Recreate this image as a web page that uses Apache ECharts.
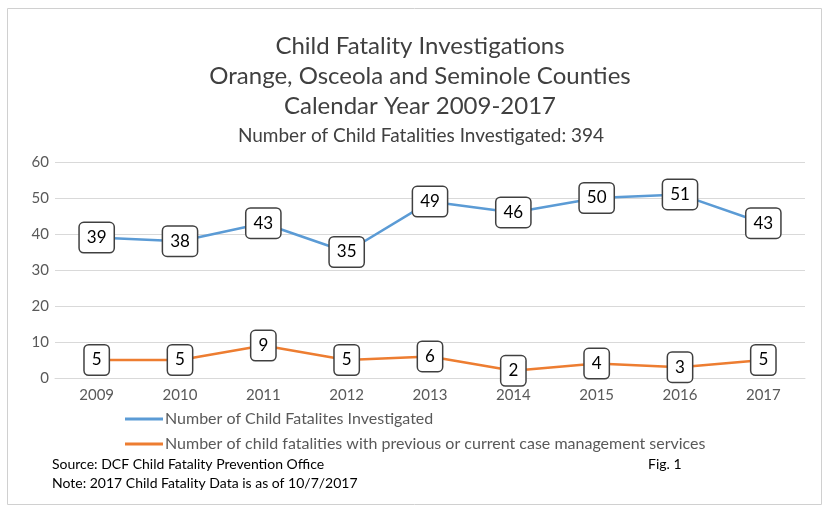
<!DOCTYPE html>
<html><head><meta charset="utf-8">
<script src="https://cdn.jsdelivr.net/npm/echarts@6/dist/echarts.min.js"></script>
<style>html,body{margin:0;padding:0;background:#fff}#c{width:825px;height:508px}</style>
</head><body><div id="c"></div>
<script>
var years = ['2009','2010','2011','2012','2013','2014','2015','2016','2017'];
var investigated = [39, 38, 43, 35, 49, 46, 50, 51, 43];
var withServices = [5, 5, 9, 5, 6, 2, 4, 3, 5];
var seriesNames = ['Number of Child Fatalites Investigated', 'Number of child fatalities with previous or current case management services'];
var titleLines = ['Child Fatality Investigations', 'Orange, Osceola and Seminole Counties', 'Calendar Year 2009-2017'];
var subtitleText = 'Number of Child Fatalities Investigated: 394';
var yTicks = {min: 0, max: 60, interval: 10};
var colors = ['#5B9BD5', '#ED7D31'];

var FONT = 'Lato, "Open Sans", sans-serif';
var chart = echarts.init(document.getElementById('c'), null, {renderer: 'canvas'});
var labelStyle = {
  show: true, position: 'inside', color: '#000', fontSize: 17, fontFamily: FONT,
  backgroundColor: '#fff', borderColor: '#404040', borderWidth: 1.5, borderRadius: 4,
  padding: [7, 7, 5, 7]
};
var graphics = [
  {type: 'rect', shape: {x: 7.5, y: 8.5, width: 814, height: 496}, style: {fill: 'none', stroke: '#d0d0d0', lineWidth: 1}},
  {type: 'text', left: 52, top: 457, style: {text: 'Source: DCF Child Fatality Prevention Office', font: '14px ' + FONT, fill: '#000'}},
  {type: 'text', left: 52, top: 476, style: {text: 'Note: 2017 Child Fatality Data is as of 10/7/2017', font: '14px ' + FONT, fill: '#000'}},
  {type: 'text', left: 648, top: 457, style: {text: 'Fig. 1', font: '14px ' + FONT, fill: '#000'}}
];
titleLines.forEach(function (t, i) {
  graphics.push({type: 'text', x: 420, y: 46 + i * 30,
    style: {text: t, font: '24px ' + FONT, fill: '#404040', align: 'center', verticalAlign: 'middle'}});
});
graphics.push({type: 'text', x: 421, y: 136,
  style: {text: subtitleText, font: '19px ' + FONT, fill: '#404040', align: 'center', verticalAlign: 'middle'}});
chart.setOption({
  animation: false,
  graphic: graphics,
  legend: {
    orient: 'vertical', left: 120, top: 406, itemWidth: 38, itemHeight: 3, itemGap: 9,
    icon: 'rect',
    textStyle: {fontFamily: FONT, fontSize: 16, color: '#595959', padding: [0, 0, 0, -3]},
    data: seriesNames.map(function (n, i) { return {name: n, itemStyle: {color: colors[i], opacity: 1}}; })
  },
  grid: {left: 55, right: 20, top: 162, bottom: 130, containLabel: false},
  xAxis: {
    type: 'category', data: years, boundaryGap: true,
    axisLine: {show: true, lineStyle: {color: '#d9d9d9', width: 1}},
    axisTick: {show: false},
    axisLabel: {color: '#595959', fontSize: 15, fontFamily: FONT, margin: 10}
  },
  yAxis: {
    type: 'value', min: yTicks.min, max: yTicks.max, interval: yTicks.interval,
    axisLine: {show: false}, axisTick: {show: false},
    splitLine: {lineStyle: {color: '#d9d9d9', width: 1}},
    axisLabel: {color: '#595959', fontSize: 15, fontFamily: FONT, margin: 6, align: 'right'}
  },
  series: [
    {name: seriesNames[0], type: 'line', data: investigated, symbol: 'circle', symbolSize: 1, showSymbol: true,
     lineStyle: {color: colors[0], width: 2.5}, itemStyle: {color: 'rgba(0,0,0,0)', borderWidth: 0}, label: labelStyle, z: 2},
    {name: seriesNames[1], type: 'line', data: withServices, symbol: 'circle', symbolSize: 1, showSymbol: true,
     lineStyle: {color: colors[1], width: 2.5}, itemStyle: {color: 'rgba(0,0,0,0)', borderWidth: 0}, label: labelStyle, z: 2}
  ]
});
</script></body></html>
